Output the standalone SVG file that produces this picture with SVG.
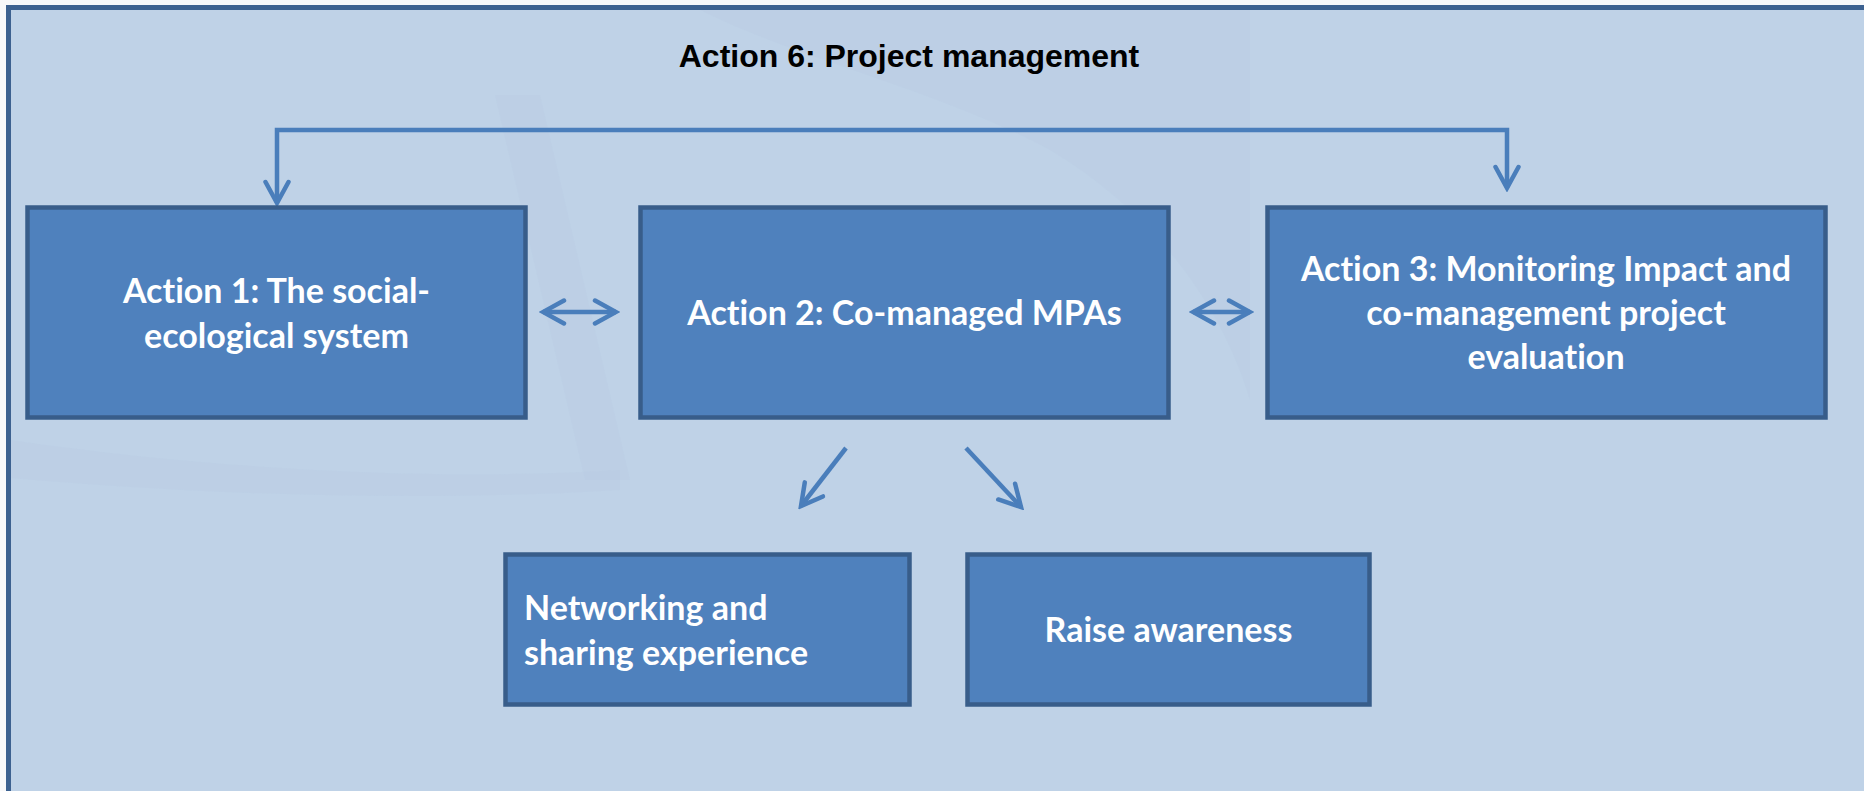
<svg xmlns="http://www.w3.org/2000/svg" width="1864" height="791" viewBox="0 0 1864 791">
<defs>
<style>
.node rect{fill:#4f81bd;stroke:#385d8a;stroke-width:4.5}
.lbl{font-family:Lato,"Liberation Sans",sans-serif;font-weight:bold;font-size:34px;fill:#ffffff;font-variant-ligatures:none;font-feature-settings:"liga" 0}
.conn{fill:none;stroke:#4a7ebb;stroke-width:4.5;stroke-linejoin:miter}
.title{font-family:"Liberation Sans",Arial,sans-serif;font-weight:bold;font-size:32px;fill:#000000}
.bgs{fill:#b7cae1;opacity:0.28}
</style>
<marker id="ah" markerUnits="userSpaceOnUse" viewBox="-26 -15 30 30" refX="0" refY="0" markerWidth="30" markerHeight="30" orient="auto-start-reverse">
<path d="M-21,-11.5 L0,0 L-21,11.5" fill="none" stroke="#4a7ebb" stroke-width="4.5" stroke-linecap="round" stroke-linejoin="miter"/>
</marker>
</defs>
<rect x="0" y="0" width="1864" height="791" fill="#f7f8fa"/>
<rect id="frame" x="8.5" y="7.5" width="1900" height="900" fill="#bfd2e7" stroke="#3c6190" stroke-width="5"/>
<g id="background">
<path class="bgs" d="M700,10 L1250,10 L1250,400 C1220,300 1150,210 1050,150 C940,90 800,60 700,10 Z"/>
<path class="bgs" d="M495,95 L540,95 L630,480 L585,480 Z"/>
<path class="bgs" d="M11,440 C200,468 430,482 620,470 L620,490 C430,502 200,495 11,478 Z"/>
</g>
<text class="title" x="909" y="67" text-anchor="middle">Action 6: Project management</text>
<g id="connectors">
<path class="conn" d="M277,203 L277,130 L1507,130 L1507,188" marker-start="url(#ah)" marker-end="url(#ah)"/>
<path class="conn" d="M543,312 L616,312" marker-start="url(#ah)" marker-end="url(#ah)"/>
<path class="conn" d="M1193,312 L1250,312" marker-start="url(#ah)" marker-end="url(#ah)"/>
<path class="conn" d="M846,448 L801,506" marker-end="url(#ah)"/>
<path class="conn" d="M966,448 L1021,507" marker-end="url(#ah)"/>
</g>
<g id="action1" class="node">
<rect x="27.5" y="207.5" width="498" height="210"/>
<text class="lbl" x="276.5" y="303" text-anchor="middle">Action 1: The social-</text>
<text class="lbl" x="276.5" y="348" text-anchor="middle">ecological system</text>
</g>
<g id="action2" class="node">
<rect x="640.5" y="207.5" width="528" height="210"/>
<text class="lbl" x="904.5" y="325" text-anchor="middle">Action 2: Co-managed MPAs</text>
</g>
<g id="action3" class="node">
<rect x="1267.5" y="207.5" width="558" height="210"/>
<text class="lbl" x="1546" y="281" text-anchor="middle">Action 3: Monitoring Impact and</text>
<text class="lbl" x="1546" y="325" text-anchor="middle">co-management project</text>
<text class="lbl" x="1546" y="369" text-anchor="middle">evaluation</text>
</g>
<g id="networking" class="node">
<rect x="505.5" y="554.5" width="404" height="150"/>
<text class="lbl" x="524" y="620">Networking and</text>
<text class="lbl" x="524" y="665">sharing experience</text>
</g>
<g id="awareness" class="node">
<rect x="967.5" y="554.5" width="402" height="150"/>
<text class="lbl" x="1168.5" y="642" text-anchor="middle">Raise awareness</text>
</g>
</svg>
